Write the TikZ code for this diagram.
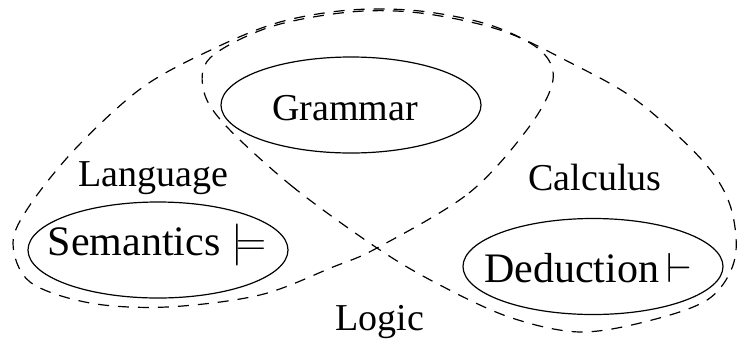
\RequirePackage{fix-cm}
\documentclass[tikz,border=0pt]{standalone}
\usepackage{fontspec}
\setmainfont{Liberation Serif}
\usetikzlibrary{shapes.geometric}
\begin{document}
\begin{tikzpicture}[x=1pt,y=-1pt,
  region/.style={draw, line width=1.2pt, dash pattern=on 11pt off 9pt},
  ring/.style={line width=1.2pt, x radius=130pt, y radius=48pt},
  lbl/.style={font=\fontsize{38}{40}\selectfont, inner sep=0pt},
  big/.style={font=\fontsize{42}{44}\selectfont, inner sep=0pt}]
\useasboundingbox (0,0) rectangle (739,341);
% Language region
\draw[region] plot[smooth cycle, tension=0.55] coordinates {
  (377,248) (469,193) (529,127) (553,80) (540,50) (490,25) (420,11) (350,10)
  (280,22) (215,48) (143,87) (77,147) (30,205) (13,243) (30,282) (90,303)
  (167,307) (260,295) (333,267)};
% Calculus region
\draw[region] plot[smooth cycle, tension=0.55] coordinates {
  (377,248) (293,187) (227,127) (204,92) (210,58) (270,27) (350,12) (420,13)
  (500,30) (569,62) (636,100) (702,160) (730,205) (735,258) (710,298)
  (652,320) (580,332) (509,317) (436,283)};
\node[lbl] (gram) at (345,108) {Grammar};
\node[big] (sem) at (157,245) {Semantics $\models$};
\node[big] (ded) at (588,268) {Deduction\,$\vdash$};
\draw[ring] (351,105) ellipse [];
\draw[ring] (158,250) ellipse [];
\draw[ring] (593,266.5) ellipse [];
\node[lbl] (lang) at (153,178) {Language};
\node[lbl] (calc) at (595,177) {Calculus};
\node[lbl] (logic) at (380,322) {Logic};
\end{tikzpicture}
\end{document}
